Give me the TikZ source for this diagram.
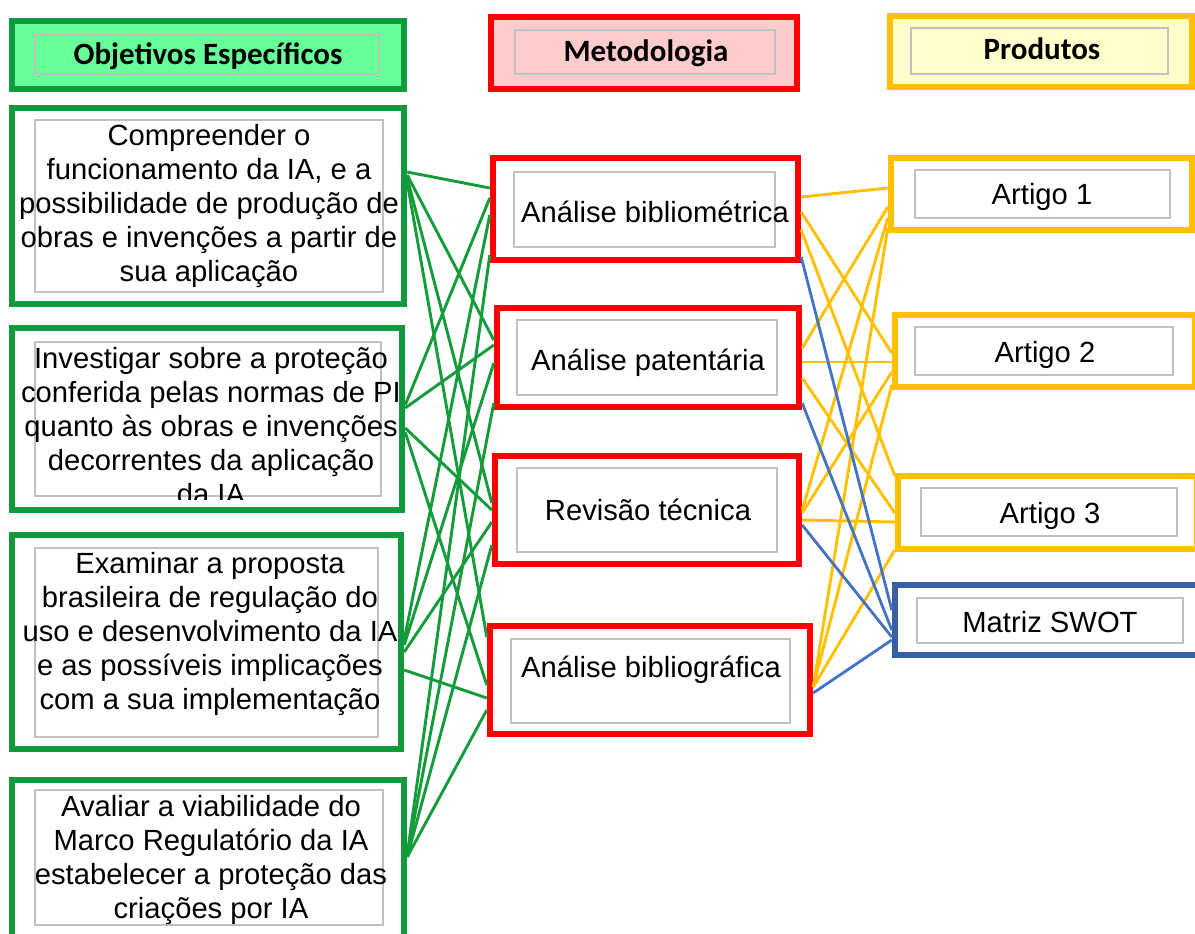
\documentclass[tikz,border=0pt]{standalone}
\usepackage{fontspec}
\setmainfont{Liberation Sans}
\newfontfamily\hdfont{Carlito}
\usetikzlibrary{fit}
\definecolor{gbd}{HTML}{109A3C}
\definecolor{gfill}{HTML}{66FF99}
\definecolor{gln}{HTML}{149B3A}
\definecolor{rbd}{HTML}{FF0000}
\definecolor{rfill}{HTML}{FFCCCC}
\definecolor{ybd}{HTML}{FFC000}
\definecolor{yfill}{HTML}{FFFFCC}
\definecolor{bbd}{HTML}{3560A8}
\definecolor{bln}{HTML}{4472C4}
\definecolor{gry}{HTML}{C0C0C0}
\newcommand\lnk[5]{\draw[#1] (#2.east |- 0,#3) -- (#4.west |- 0,#5);}
\begin{document}
\begin{tikzpicture}[x=0.5pt,y=-0.5pt,
  box/.style={draw, line width=3.2pt, inner sep=0pt, fill=white},
  gbox/.style={box, draw=gbd},
  rbox/.style={box, draw=rbd},
  ybox/.style={box, draw=ybd},
  bbox/.style={box, draw=bbd},
  ibox/.style={draw=gry, line width=0.9pt, inner sep=0pt},
  txt/.style={align=center, inner sep=0pt, font=\fontsize{14.6}{17}\selectfont},
  one/.style={txt, text height=10.5pt, text depth=3pt},
  hd/.style={inner sep=0pt, text height=11pt, text depth=3pt, font=\hdfont\bfseries\fontsize{15.5}{18}\selectfont},
  gl/.style={draw=gln, line width=1.45pt},
  yl/.style={draw=ybd, line width=1.45pt},
  bl/.style={draw=bln, line width=1.4pt}]
\useasboundingbox (0,0) rectangle (1195,933);
\clip (0,0) rectangle (1195,933);
\fill[white] (0,0) rectangle (1195,933);

% headers
\node[gbox, fill=gfill, fit={(12,21) (404,89)}] (L0) {};
\node[ibox, fit={(35,35) (379,74)}] (L0i) {};
\node[hd] (L0t) at (208,56) {Objetivos Específicos};
\node[rbox, fill=rfill, fit={(491,17) (797,89)}] (M0) {};
\node[ibox, fit={(515,30) (775,74)}] (M0i) {};
\node[hd] (M0t) at (646,53) {Metodologia};
\node[ybox, fill=yfill, fit={(890,16) (1192,87)}] (P0) {};
\node[ibox, fit={(911,28) (1168,74)}] (P0i) {};
\node[hd] (P0t) at (1042,51) {Produtos};

% left column
\node[gbox, fit={(12,108) (404,304)}] (L1) {};
\node[ibox, fit={(35,120) (383,292)}] (L1i) {};
\node[txt] (L1t) at (209,206) {Compreender o\\funcionamento da IA, e a\\possibilidade de produção de\\obras e invenções a partir de\\sua aplicação};
\node[gbox, fit={(12,328) (402,510)}] (L2) {};
\node[ibox, fit={(35,342) (381,496)}] (L2i) {};
\begin{scope}
\clip (12,328) rectangle (402,499);
\node[txt] (L2t) at (211,426) {Investigar sobre a proteção\\conferida pelas normas de PI\\quanto às obras e invenções\\decorrentes da aplicação\\da IA};
\end{scope}
\node[gbox, fit={(12,535) (401,749)}] (L3) {};
\node[ibox, fit={(35,548) (378,737)}] (L3i) {};
\node[txt] (L3t) at (210,634) {Examinar a proposta\\brasileira de regulação do\\uso e desenvolvimento da IA\\e as possíveis implicações\\com a sua implementação};
\node[gbox, fit={(12,780) (404,960)}] (L4) {};
\node[ibox, fit={(35,790) (383,925)}] (L4i) {};
\node[txt] (L4t) at (211,860) {Avaliar a viabilidade do\\Marco Regulatório da IA\\estabelecer a proteção das\\criações por IA};

% middle column
\node[rbox, fit={(493,158) (798,260)}] (M1) {};
\node[ibox, fit={(514,172) (775,247)}] (M1i) {};
\node[one] (M1t) at (655,215) {Análise bibliométrica};
\node[rbox, fit={(497,308) (799,407)}] (M2) {};
\node[ibox, fit={(517,320) (777,395)}] (M2i) {};
\node[one] (M2t) at (648,363) {Análise patentária};
\node[rbox, fit={(495,456) (799,564)}] (M3) {};
\node[ibox, fit={(517,468) (777,552)}] (M3i) {};
\node[one] (M3t) at (648,513) {Revisão técnica};
\node[rbox, fit={(490,626) (810,734)}] (M4) {};
\node[ibox, fit={(511,639) (790,723)}] (M4i) {};
\node[one] (M4t) at (651,670) {Análise bibliográfica};

% right column
\node[ybox, fit={(891,158) (1192,230)}] (A1) {};
\node[ibox, fit={(915,170) (1170,218)}] (A1i) {};
\node[one] (A1t) at (1042,197) {Artigo 1};
\node[ybox, fit={(895,315) (1195,387)}] (A2) {};
\node[ibox, fit={(915,327) (1173,375)}] (A2i) {};
\node[one] (A2t) at (1045,355) {Artigo 2};
\node[ybox, fit={(898,476) (1197,549)}] (A3) {};
\node[ibox, fit={(921,488) (1177,536)}] (A3i) {};
\node[one] (A3t) at (1050,516) {Artigo 3};
\node[bbox, fit={(895,585) (1200,655)}] (SW) {};
\node[ibox, fit={(917,598) (1183,643)}] (SWi) {};
\node[one] (SWt) at (1050,625) {Matriz SWOT};

% green connectors
\lnk{gl}{L1}{172}{M1}{188}
\lnk{gl}{L1}{175}{M2}{340}
\lnk{gl}{L1}{178}{M3}{503}
\lnk{gl}{L1}{182}{M4}{637}
\lnk{gl}{L2}{405}{M1}{198}
\lnk{gl}{L2}{408}{M2}{345}
\lnk{gl}{L2}{428}{M3}{510}
\lnk{gl}{L2}{432}{M4}{685}
\lnk{gl}{L3}{640}{M1}{215}
\lnk{gl}{L3}{645}{M2}{363}
\lnk{gl}{L3}{652}{M3}{522}
\lnk{gl}{L3}{670}{M4}{698}
\lnk{gl}{L4}{855}{M1}{255}
\lnk{gl}{L4}{855}{M2}{403}
\lnk{gl}{L4}{857}{M3}{545}
\lnk{gl}{L4}{857}{M4}{710}

% yellow connectors
\lnk{yl}{M1}{197}{A1}{188}
\lnk{yl}{M1}{212}{A2}{353}
\lnk{yl}{M1}{230}{A3}{476}
\lnk{yl}{M2}{348}{A1}{207}
\lnk{yl}{M2}{362}{A2}{362}
\lnk{yl}{M2}{378}{A3}{513}
\lnk{yl}{M3}{510}{A1}{218}
\lnk{yl}{M3}{513}{A2}{372}
\lnk{yl}{M3}{520}{A3}{522}
\lnk{yl}{M4}{687}{A1}{228}
\lnk{yl}{M4}{687}{A2}{385}
\lnk{yl}{M4}{687}{A3}{550}

% blue connectors
\lnk{bl}{M1}{257}{SW}{610}
\lnk{bl}{M2}{403}{SW}{630}
\lnk{bl}{M3}{525}{SW}{637}
\lnk{bl}{M4}{693}{SW}{640}
\end{tikzpicture}
\end{document}
